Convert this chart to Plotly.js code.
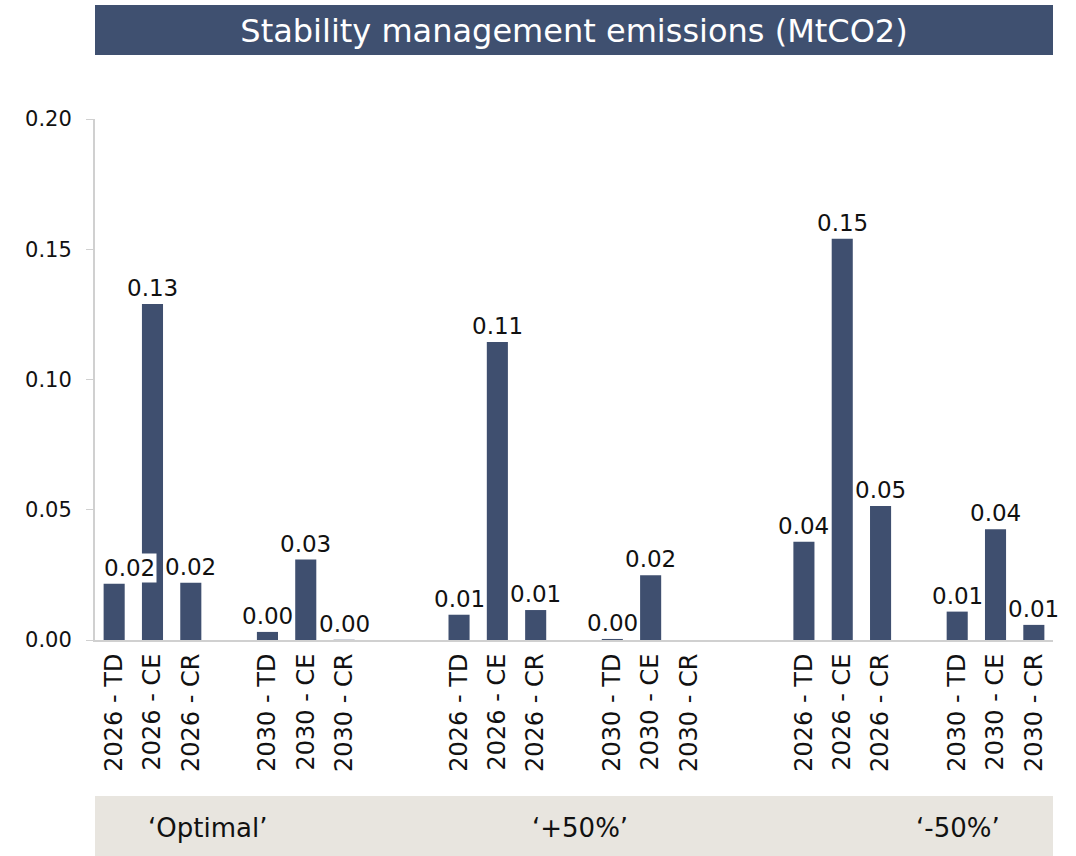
<!DOCTYPE html>
<html>
<head>
<meta charset="utf-8">
<script src="https://cdn.plot.ly/plotly-3.0.1.min.js"></script>
<style>html,body{margin:0;padding:0;background:#fff;}#chart{width:1076px;height:856px;}</style>
</head>
<body>
<div id="chart"></div>
<script>
// ---- data ----
const titleText = 'Stability management emissions (MtCO2)';
const scenarios = ['‘Optimal’', '‘+50%’', '‘-50%’'];
const years = ['2026', '2030'];
const parts = ['TD', 'CE', 'CR'];
const categories = [
  '2026 - TD', '2026 - CE', '2026 - CR', '2030 - TD', '2030 - CE', '2030 - CR',
  '2026 - TD', '2026 - CE', '2026 - CR', '2030 - TD', '2030 - CE', '2030 - CR',
  '2026 - TD', '2026 - CE', '2026 - CR', '2030 - TD', '2030 - CE', '2030 - CR'
];
const values = [
  0.0216, 0.1290, 0.0220, 0.0031, 0.0309, 0.0001,
  0.0097, 0.1144, 0.0115, 0.0004, 0.0249, null,
  0.0377, 0.1540, 0.0514, 0.0109, 0.0425, 0.0058
];
const yTicks = [0, 0.05, 0.10, 0.15, 0.20];
const yTickText = ['0.00', '0.05', '0.10', '0.15', '0.20'];

// ---- layout helpers ----
const barColor = '#3f4f6f';
const slots = [];
for (let s = 0; s < scenarios.length; s++) {
  for (let y = 0; y < years.length; y++) {
    for (let p = 0; p < parts.length; p++) {
      slots.push(s * 9 + y * 4 + p);
    }
  }
}

const annotations = [];
values.forEach((v, i) => {
  if (v === null) return;
  annotations.push({
    x: slots[i], y: v, xref: 'x', yref: 'y',
    text: v.toFixed(2), showarrow: false,
    yanchor: 'bottom', yshift: 1, xshift: i === 0 ? 15 : 0,
    bgcolor: i === 0 ? '#ffffff' : 'rgba(0,0,0,0)', borderpad: 1,
    font: {family: 'DejaVu Sans', size: 23, color: '#111111'}
  });
});
const scenarioX = [207, 580, 958];
scenarios.forEach((s, i) => {
  annotations.push({
    x: (scenarioX[i] - 95) / 958, y: -0.3608, xref: 'paper', yref: 'paper',
    text: s, showarrow: false, xanchor: 'center', yanchor: 'middle',
    font: {family: 'DejaVu Sans', size: 26, color: '#111111'}
  });
});

const data = [{
  type: 'bar',
  x: slots,
  y: values,
  width: 0.55,
  marker: {color: barColor},
  hoverinfo: 'x+y',
  cliponaxis: false
}];

const layout = {
  width: 1076, height: 856,
  paper_bgcolor: '#ffffff', plot_bgcolor: '#ffffff',
  margin: {l: 95, r: 23, t: 119, b: 216, pad: 0},
  showlegend: false,
  title: {
    text: titleText,
    x: 0.5, xanchor: 'center', xref: 'paper',
    y: 1 - 31 / 856, yanchor: 'middle', yref: 'container',
    font: {family: 'DejaVu Sans', size: 32, color: '#ffffff'}
  },
  xaxis: {
    range: [-0.5, 24.5],
    tickmode: 'array', tickvals: slots, ticktext: categories,
    tickangle: -90,
    showline: true, linecolor: '#d0d0d0', linewidth: 2,
    showgrid: false, zeroline: false, ticks: '',
    ticklabelstandoff: 2,
    tickfont: {family: 'DejaVu Sans', size: 24, color: '#111111'},
    fixedrange: true
  },
  yaxis: {
    range: [0, 0.2],
    tickmode: 'array', tickvals: yTicks, ticktext: yTickText,
    showline: true, linecolor: '#d0d0d0', linewidth: 2,
    ticks: 'outside', ticklen: 7, tickcolor: '#d0d0d0', tickwidth: 1,
    showgrid: false, zeroline: false,
    ticklabelstandoff: 10,
    tickfont: {family: 'DejaVu Sans', size: 21, color: '#111111'},
    fixedrange: true
  },
  shapes: [
    {type: 'rect', xref: 'paper', yref: 'paper', x0: 0, x1: 1,
     y0: (640 - 55) / 521, y1: (640 - 5) / 521,
     fillcolor: '#3f5070', line: {width: 0}, layer: 'below'},
    {type: 'rect', xref: 'paper', yref: 'paper', x0: 0, x1: 1,
     y0: (640 - 856) / 521, y1: (640 - 796) / 521,
     fillcolor: '#e8e5df', line: {width: 0}, layer: 'below'}
  ],
  annotations: annotations,
  bargap: 0.45
};

Plotly.newPlot('chart', data, layout, {displayModeBar: false, staticPlot: true});
</script>
</body>
</html>
